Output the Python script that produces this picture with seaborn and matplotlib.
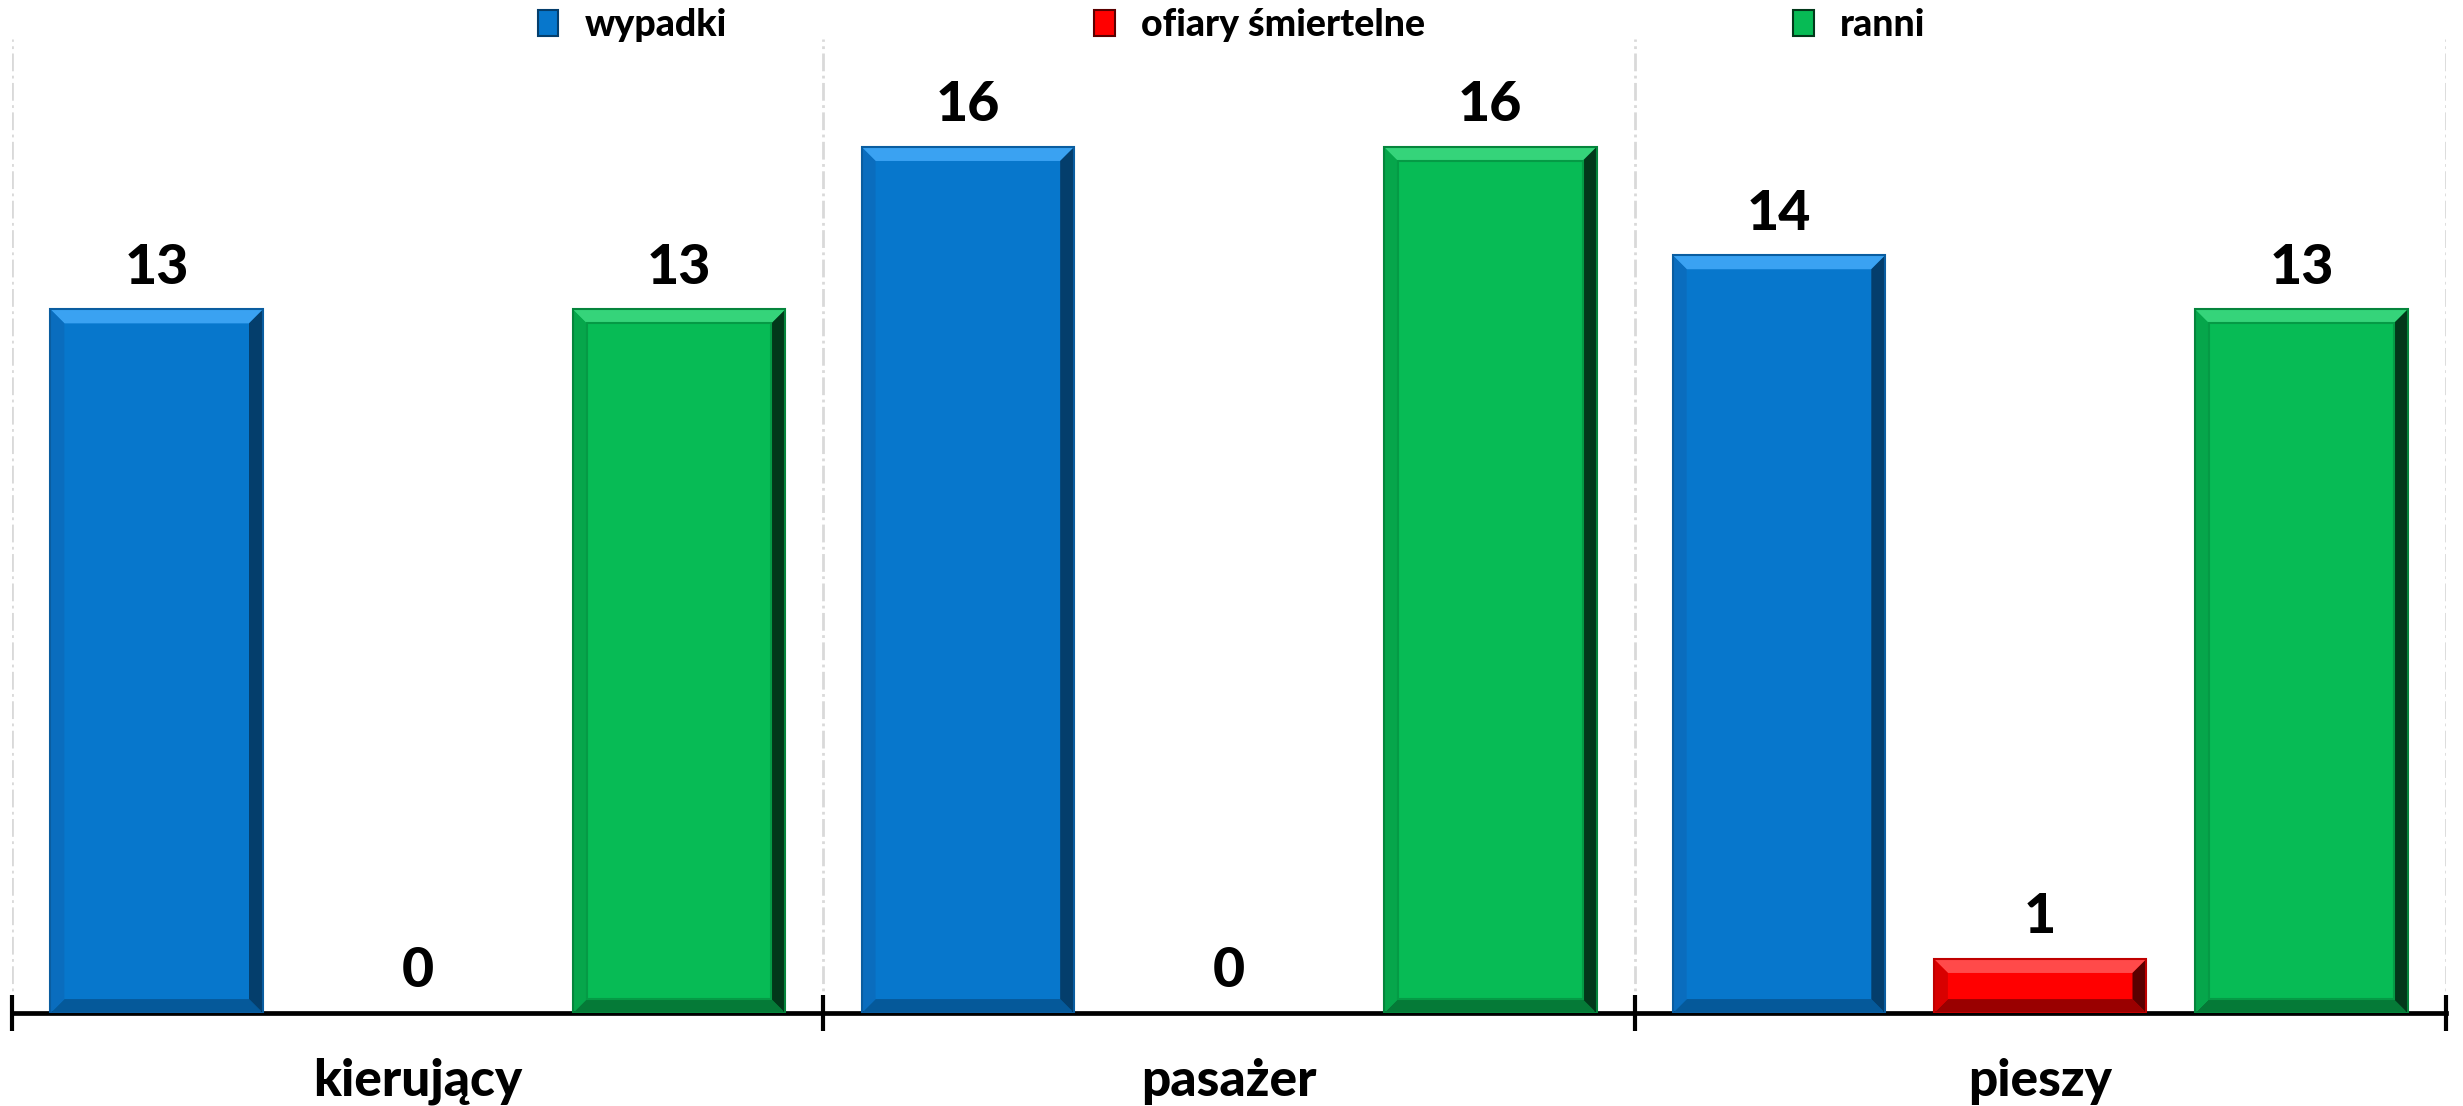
import numpy as np
import pandas as pd
import matplotlib
matplotlib.use("Agg")
import matplotlib.pyplot as plt
import seaborn as sns
from matplotlib import font_manager
from matplotlib.patches import Polygon, Rectangle
from matplotlib.ticker import FixedLocator, NullFormatter, FixedFormatter

categories = ["kierujący", "pasażer", "pieszy"]
series = ["wypadki", "ofiary śmiertelne", "ranni"]
wypadki = [13, 16, 14]
ofiary = [0, 0, 1]
ranni = [13, 16, 13]

colors = {"wypadki": "#0777CC", "ofiary śmiertelne": "#FF0000", "ranni": "#07BB55"}
bevel_cols = {
    "wypadki": dict(top="#3AA2F2", left="#0A6DBE", right="#043E6C", bottom="#05599A", edge="#0A5DA0"),
    "ofiary śmiertelne": dict(top="#FF4A4A", left="#D80000", right="#5A0000", bottom="#9A0000", edge="#C00000"),
    "ranni": dict(top="#35D47A", left="#06A64B", right="#02381A", bottom="#057A37", edge="#05853C"),
}

heavy_family, heavy_weight = "Liberation Sans", "bold"
for fam in ["Lato", "Roboto", "Inter", "Open Sans", "Noto Sans"]:
    ws = [f.weight for f in font_manager.fontManager.ttflist if f.name == fam]
    ws = [w if isinstance(w, int) else {"black": 900, "heavy": 800, "extra bold": 800, "bold": 700}.get(str(w), 400) for w in ws]
    if any(w >= 800 for w in ws):
        heavy_family, heavy_weight = fam, 900
        break

sns.set_theme(style="white")
plt.rcParams['font.family'] = [heavy_family, 'DejaVu Sans']
plt.rcParams['font.weight'] = heavy_weight

df = pd.DataFrame({
    "kategoria": categories * 3,
    "seria": [s for s in series for _ in categories],
    "wartosc": wypadki + ofiary + ranni,
})

fig = plt.figure(figsize=(24.63, 11.06), dpi=100)
ax = fig.add_axes([0.005, 0.084, 0.988, 0.881])

sns.barplot(data=df, x="kategoria", y="wartosc", hue="seria", order=categories,
            hue_order=series, palette=colors, width=0.966, gap=0.186,
            saturation=1, ax=ax, legend=False, errorbar=None, linewidth=0)

ax.set_xlim(-0.5, 2.5)
ax.set_ylim(0, 18)
fig.canvas.draw()

inv = ax.transData.inverted()
p0 = inv.transform((0, 0)); p1 = inv.transform((1, 1))
dxpx = p1[0] - p0[0]; dypx = p1[1] - p0[1]
bw = 14

bars = [p for p in ax.patches if isinstance(p, Rectangle)]
for i, bar in enumerate(bars):
    s = series[i // len(categories)]
    x, y = bar.get_x(), bar.get_y()
    w, h = bar.get_width(), bar.get_height()
    if h <= 0:
        continue
    bx = bw * dxpx; by = min(bw * dypx, h * 0.3)
    c = bevel_cols[s]
    x0, x1, y0, y1 = x, x + w, y, y + h
    ix0, ix1, iy0, iy1 = x0 + bx, x1 - bx, y0 + by, y1 - by
    ax.add_patch(Polygon([(x0, y1), (x1, y1), (ix1, iy1), (ix0, iy1)], closed=True, fc=c["top"], ec="none", zorder=3))
    ax.add_patch(Polygon([(x0, y0), (x1, y0), (ix1, iy0), (ix0, iy0)], closed=True, fc=c["bottom"], ec="none", zorder=3))
    ax.add_patch(Polygon([(x0, y0), (x0, y1), (ix0, iy1), (ix0, iy0)], closed=True, fc=c["left"], ec="none", zorder=3))
    ax.add_patch(Polygon([(x1, y0), (x1, y1), (ix1, iy1), (ix1, iy0)], closed=True, fc=c["right"], ec="none", zorder=3))
    ax.add_patch(Rectangle((x0, y0), w, h, fc="none", ec=c["edge"], lw=1.5, zorder=4))
    if s == "ranni":
        ax.add_patch(Rectangle((ix0, iy0), ix1 - ix0, iy1 - iy0, fc="none", ec="#059A45", lw=1.5, zorder=4))

for i, bar in enumerate(bars):
    val = df["wartosc"].iloc[i]
    ax.annotate(f"{int(val)}", (bar.get_x() + bar.get_width() / 2, bar.get_height()),
                xytext=(0, 12), textcoords="offset points", ha="center", va="bottom",
                fontsize=40, fontweight=heavy_weight, color="black", zorder=5)

for sp in ["top", "right", "left"]:
    ax.spines[sp].set_visible(False)
ax.spines["bottom"].set_linewidth(3.4)
ax.spines["bottom"].set_color("black")
ax.set_yticks([])
ax.set_ylabel("")
ax.set_xlabel("")
ax.xaxis.set_major_locator(FixedLocator([-0.5, 0.5, 1.5, 2.5]))
ax.xaxis.set_major_formatter(NullFormatter())
ax.xaxis.set_minor_locator(FixedLocator([0, 1, 2]))
ax.xaxis.set_minor_formatter(FixedFormatter(categories))
ax.tick_params(axis="x", which="major", direction="inout", length=26, width=3, color="black", bottom=True)
ax.tick_params(axis="x", which="minor", length=0, pad=32, labelsize=37, labelcolor="black")
for lab in ax.get_xticklabels(minor=True):
    lab.set_fontweight(heavy_weight)
ax.grid(axis="x", which="major", color="#D9D9D9", linestyle="-.", linewidth=2, zorder=0)
ax.grid(axis="y", visible=False)
ax.set_axisbelow(True)

handles = [Rectangle((0, 0), 1, 1, fc=colors[s], ec=bevel_cols[s]["right"], lw=1.5) for s in series]
leg = fig.legend(handles, series, loc="upper center", bbox_to_anchor=(0.5, 1.023), ncol=3, frameon=False,
                 prop={"weight": heavy_weight, "size": 27}, handlelength=0.55, handleheight=0.7,
                 columnspacing=9.8, handletextpad=0.7)
for t in leg.get_texts():
    t.set_fontweight(heavy_weight)
    t.set_color("black")

fig.savefig("out.png", dpi=100, facecolor="white")
